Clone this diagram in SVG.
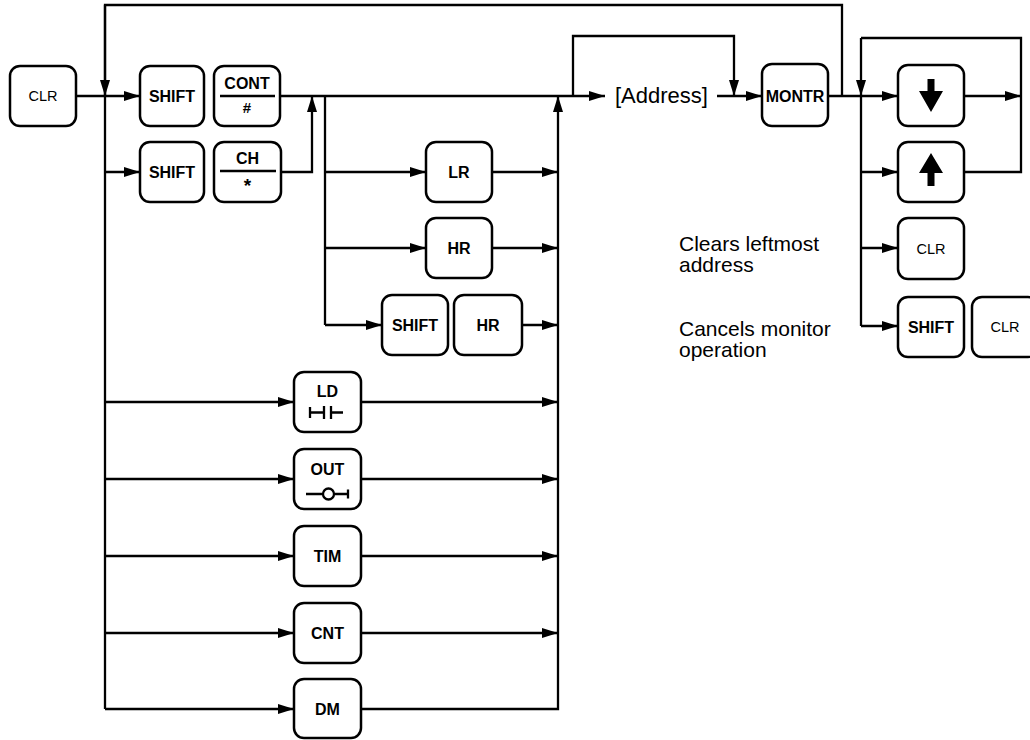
<svg xmlns="http://www.w3.org/2000/svg" width="1030" height="740" viewBox="0 0 1030 740">
<style>
.ln{fill:none;stroke:#000;stroke-width:2.3}
.arr{marker-end:url(#ah)}
.box{fill:#fff;stroke:#000;stroke-width:2.5}
.kb{font-family:"Liberation Sans",Arial,sans-serif;font-weight:bold;font-size:16px;text-anchor:middle;fill:#000}
.kr{font-family:"Liberation Sans",Arial,sans-serif;font-size:14.5px;text-anchor:middle;fill:#000}
.note{font-family:"Liberation Sans",Arial,sans-serif;font-size:21px;fill:#000}
.sym{fill:none;stroke:#000;stroke-width:2.3}
</style>
<defs>
<marker id="ah" markerWidth="16" markerHeight="10" refX="16" refY="5" orient="auto" markerUnits="userSpaceOnUse"><path d="M0,0 L16,5 L0,10 z" fill="#000"/></marker>
</defs>
<rect width="1030" height="740" fill="#fff"/>
<g id="connectors">
<path class="ln" d="M105,96 V5 H842 V96"/>
<path class="ln arr" d="M105,5 V96"/>
<path class="ln arr" d="M76,96 H140"/>
<path class="ln" d="M105,96 V709"/>
<path class="ln arr" d="M105,172 H140"/>
<path class="ln arr" d="M281,172 H312 V96"/>
<path class="ln arr" d="M280,96 H605"/>
<path class="ln" d="M325,96 V325"/>
<path class="ln arr" d="M325,172 H426"/>
<path class="ln arr" d="M325,248 H426"/>
<path class="ln arr" d="M325,325 H382"/>
<path class="ln arr" d="M492,172 H558"/>
<path class="ln arr" d="M492,248 H558"/>
<path class="ln arr" d="M522,325 H558"/>
<path class="ln arr" d="M105,402 H294"/>
<path class="ln arr" d="M105,479 H294"/>
<path class="ln arr" d="M105,556 H294"/>
<path class="ln arr" d="M105,633 H294"/>
<path class="ln arr" d="M105,709 H294"/>
<path class="ln arr" d="M361,402 H558"/>
<path class="ln arr" d="M361,479 H558"/>
<path class="ln arr" d="M361,556 H558"/>
<path class="ln arr" d="M361,633 H558"/>
<path class="ln arr" d="M361,709 H558 V96"/>
<path class="ln arr" d="M573,96 V36 H734 V96"/>
<path class="ln arr" d="M717,96 H762"/>
<path class="ln arr" d="M828,96 H898"/>
<path class="ln" d="M861,38 H1021 V172 H964"/>
<path class="ln arr" d="M861,38 V96"/>
<path class="ln" d="M861,96 V326"/>
<path class="ln arr" d="M964,96 H1021"/>
<path class="ln arr" d="M861,172 H898"/>
<path class="ln arr" d="M861,248 H898"/>
<path class="ln arr" d="M861,326 H898"/>
</g>
<g id="n-clr0"><rect class="box" x="10" y="66" width="66" height="60" rx="10"/><text class="kr" x="43" y="101">CLR</text></g>
<g id="n-shift1"><rect class="box" x="140" y="66" width="64" height="60" rx="10"/><text class="kb" x="172" y="102">SHIFT</text></g>
<g id="n-cont"><rect class="box" x="214" y="66" width="66" height="60" rx="10"/><text class="kb" x="247" y="89">CONT</text><line class="sym" x1="220" y1="96" x2="275" y2="96"/><text class="kb" x="247" y="113" style="font-size:15px">#</text></g>
<g id="n-shift2"><rect class="box" x="140" y="142" width="64" height="60" rx="10"/><text class="kb" x="172" y="178">SHIFT</text></g>
<g id="n-ch"><rect class="box" x="214" y="142" width="67" height="60" rx="10"/><text class="kb" x="247.5" y="164">CH</text><line class="sym" x1="220" y1="171" x2="276" y2="171"/><text class="kb" x="247.5" y="192" style="font-size:19px">*</text></g>
<g id="n-lr"><rect class="box" x="426" y="142" width="66" height="60" rx="10"/><text class="kb" x="459" y="178">LR</text></g>
<g id="n-hr"><rect class="box" x="426" y="218" width="66" height="60" rx="10"/><text class="kb" x="459" y="254">HR</text></g>
<g id="n-shift3"><rect class="box" x="382" y="295" width="66" height="60" rx="10"/><text class="kb" x="415" y="331">SHIFT</text></g>
<g id="n-hr2"><rect class="box" x="454" y="295" width="68" height="60" rx="10"/><text class="kb" x="488" y="331">HR</text></g>
<g id="n-ld"><rect class="box" x="294" y="372" width="67" height="60" rx="10"/><text class="kb" x="327.5" y="397">LD</text><path class="sym" d="M310,407 V418 M310,412.5 H324 M324,406 V419 M331,406 V419 M331,412.5 H343"/></g>
<g id="n-out"><rect class="box" x="294" y="449" width="67" height="60" rx="10"/><text class="kb" x="327.5" y="475">OUT</text><path class="sym" d="M306,494 H323 M334,494 H348 M348,489.5 V498.5"/><circle class="sym" cx="328.5" cy="494" r="5.5"/></g>
<g id="n-tim"><rect class="box" x="294" y="526" width="67" height="60" rx="10"/><text class="kb" x="327.5" y="562">TIM</text></g>
<g id="n-cnt"><rect class="box" x="294" y="603" width="67" height="60" rx="10"/><text class="kb" x="327.5" y="639">CNT</text></g>
<g id="n-dm"><rect class="box" x="294" y="679" width="67" height="59" rx="10"/><text class="kb" x="327.5" y="715">DM</text></g>
<g id="n-address"><text class="note" x="615" y="103" style="font-size:22px">[Address]</text></g>
<g id="n-montr"><rect class="box" x="762" y="64" width="66" height="62" rx="10"/><text class="kb" x="795" y="102">MONTR</text></g>
<g id="n-down"><rect class="box" x="898" y="65" width="66" height="61" rx="10"/><path d="M927.5,79 H934.5 V91 H943 L931,112 L919,91 H927.5 Z" fill="#000"/></g>
<g id="n-up"><rect class="box" x="898" y="142" width="66" height="60" rx="10"/><path d="M931,153 L943,173 H934.5 V186 H927.5 V173 H919 Z" fill="#000"/></g>
<g id="n-clr1"><rect class="box" x="898" y="218" width="66" height="61" rx="10"/><text class="kr" x="931" y="254">CLR</text></g>
<g id="n-shift4"><rect class="box" x="898" y="297" width="66" height="60" rx="10"/><text class="kb" x="931" y="333">SHIFT</text></g>
<g id="n-clr2"><rect class="box" x="972" y="297" width="66" height="60" rx="10"/><text class="kr" x="1005" y="332">CLR</text></g>
<g id="n-note1"><text class="note" x="679" y="251">Clears leftmost</text><text class="note" x="679" y="272">address</text></g>
<g id="n-note2"><text class="note" x="679" y="336">Cancels monitor</text><text class="note" x="679" y="357">operation</text></g>
</svg>
